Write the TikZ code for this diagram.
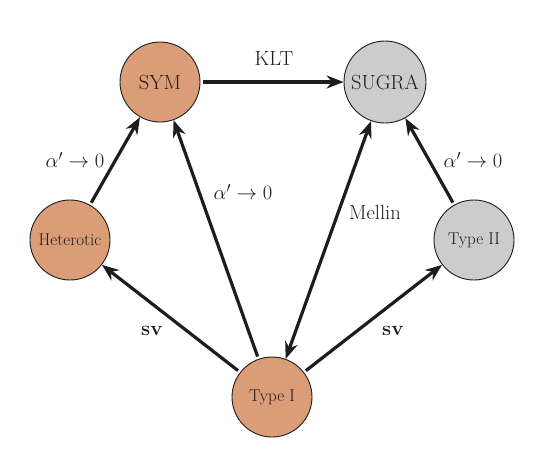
\RequirePackage{fix-cm}
\documentclass[tikz,border=0pt]{standalone}
\usetikzlibrary{arrows.meta}
\definecolor{orng}{RGB}{219,157,120}
\definecolor{gry}{RGB}{204,204,204}
\definecolor{ink}{RGB}{30,28,30}
\begin{document}
\begin{tikzpicture}[x=1pt,y=-1pt,
  big/.style={circle, draw=ink, line width=0.9pt, minimum size=80pt, inner sep=0pt,
    font=\fontsize{20.5}{24}\selectfont, text=ink},
  small/.style={big, font=\fontsize{17}{20}\selectfont},
  conn/.style={line width=3.2pt, draw=ink, -{Stealth[length=17pt,width=13pt]}, shorten <=2.5pt},
  lbl/.style={font=\fontsize{20.5}{24}\selectfont, text=ink}]
\useasboundingbox (0,0) rectangle (540,461);
\node[big, fill=orng] (sym) at (160,82) {SYM};
\node[big, fill=gry, minimum size=82pt] (sugra) at (385,82) {SUGRA};
\node[small, fill=orng] (het) at (70,240) {Heterotic};
\node[small, fill=gry] (t2) at (474,240) {Type II};
\node[small, fill=orng] (t1) at (272,397) {Type I};
\draw[conn] (sym) -- (sugra);
\draw[conn] (het) -- (sym);
\draw[conn] (t1) -- (sym);
\draw[line width=3.2pt, draw=ink, {Stealth[length=17pt,width=13pt]}-{Stealth[length=17pt,width=13pt]}] (t1) -- (sugra);
\draw[conn] (t1) -- (het);
\draw[conn] (t1) -- (t2);
\draw[conn] (t2) -- (sugra);
\node[lbl] (klt) at (274,58) {KLT};
\node[lbl] (a1) at (75,160) {$\alpha'\to0$};
\node[lbl] (a2) at (243,192) {$\alpha'\to0$};
\node[lbl] (a3) at (473,160) {$\alpha'\to0$};
\node[lbl] (mel) at (375,212) {Mellin};
\node[lbl] (sv1) at (152,331) {$\mathbf{sv}$};
\node[lbl] (sv2) at (393,331) {$\mathbf{sv}$};
\end{tikzpicture}
\end{document}
